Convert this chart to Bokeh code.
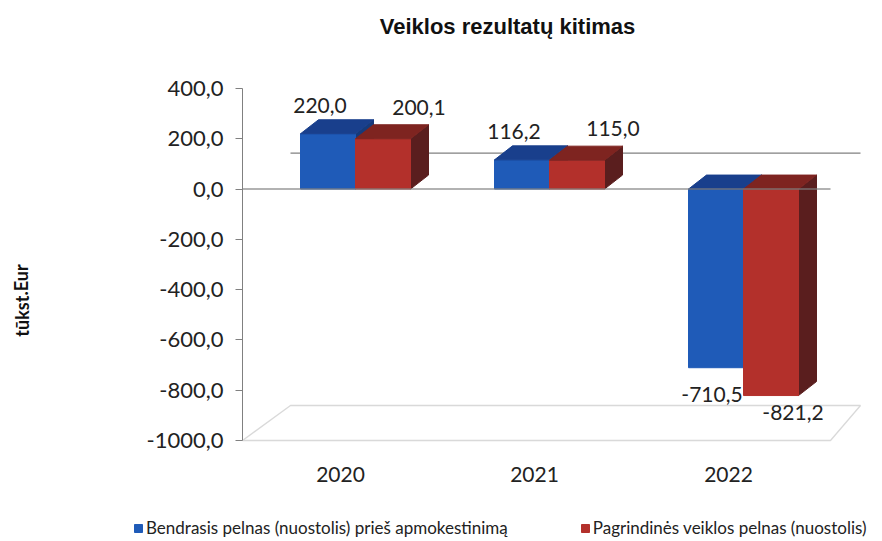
from bokeh.plotting import figure
from bokeh.models import (ColumnDataSource, FixedTicker, Label, Legend,
                          LegendItem, PolyAnnotation, Range1d, LinearAxis)
from bokeh.core.properties import value
from bokeh.embed import file_html
from bokeh.resources import INLINE

# ---------------- data ----------------
chart_title = "Veiklos rezultatų kitimas"
y_axis_title = "tūkst.Eur"
years = ["2020", "2021", "2022"]
series_names = ["Bendrasis pelnas (nuostolis) prieš apmokestinimą",
                "Pagrindinės veiklos pelnas (nuostolis)"]
pretax = [220.0, 116.2, -710.5]
operating = [200.1, 115.0, -821.2]
pretax_labels = ["220,0", "116,2", "-710,5"]
operating_labels = ["200,1", "115,0", "-821,2"]
y_ticks = [400, 200, 0, -200, -400, -600, -800, -1000]
y_tick_labels = ["400,0", "200,0", "0,0", "-200,0", "-400,0", "-600,0", "-800,0", "-1000,0"]

# ---------------- layout / style ----------------
CW, CH = 882, 541                   # canvas
PL, PR, PT, PB = 242, 860, 88, 440  # plotting region (px)
UX = 194.0                          # px per category
X0 = -(340 - PL) / UX               # category coordinate at PL
y_lo, y_hi = y_ticks[-1], y_ticks[0]
UY = (PB - PT) / (y_hi - y_lo)      # px per value unit
X1 = X0 + (PR - PL) / UX

def xd(px):  # canvas px -> x data
    return X0 + (px - PL) / UX

def yd(py):  # canvas px (from top) -> y data
    return y_lo + (PB - py) / UY

FONT = "Lato"
W = 55 / UX               # bar width
SHIFT = 15 / UX           # perspective shift of bar pair
DX = 18 / UX              # 3D depth, x
DY = 14 / UY              # 3D depth, y
blue = dict(front="#1F5BB8", top="#193F8C", side="#163A7A")
red = dict(front="#B3302B", top="#7E2420", side="#5A1E1E")
GRAY = "#808080"
TXT = "#222222"

x_idx = list(range(len(years)))

p = figure(width=CW, height=CH, output_backend="svg", toolbar_location=None,
           x_range=Range1d(xd(0), xd(CW)), y_range=Range1d(yd(CH), yd(0)),
           x_axis_location=None, y_axis_location=None,
           min_border=0)
p.outline_line_color = None
p.xgrid.visible = False
p.ygrid.visible = False

# floor (3D base)
FX_L, FX_R, FY = 48 / UX, 30 / UX, 35 / UY
p.add_layout(PolyAnnotation(
    xs=[X0, X1 - FX_R, X1, X0 + FX_L],
    ys=[y_lo, y_lo, y_lo + FY, y_lo + FY],
    fill_color=None, line_color=GRAY, line_width=1.3))

# back-wall zero line
p.segment(x0=[X0 + FX_L], y0=[36 / UY], x1=[X1], y1=[36 / UY], line_color=GRAY, line_width=1.3)


def draw_series(vals, offset, col):
    left = [i + SHIFT + offset for i in x_idx]
    right = [l + W for l in left]
    top = [max(v, 0) for v in vals]
    bottom = [min(v, 0) for v in vals]
    side_xs = [[r, r + DX, r + DX, r] for r in right]
    side_ys = [[t, t + DY, b + DY, b] for t, b in zip(top, bottom)]
    top_xs = [[l, r, r + DX, l + DX] for l, r in zip(left, right)]
    top_ys = [[t, t, t + DY, t + DY] for t in top]
    p.patches(side_xs, side_ys, fill_color=col["side"], line_color=col["side"])
    front = p.quad(left=left, right=right, top=top, bottom=bottom,
                   fill_color=col["front"], line_color=col["front"])
    p.patches(top_xs, top_ys, fill_color=col["top"], line_color=col["top"])
    return front, left


b_r, b_left = draw_series(pretax, -W, blue)
r_r, r_left = draw_series(operating, 0.0, red)

# front zero line (drawn over the bars, as in the original)
p.segment(x0=[X0], y0=[0], x1=[X1 - FX_R], y1=[0], line_color=GRAY, line_width=1.5,
          line_alpha=0.8)

# value labels (offsets in px per series / sign)
offs = {("b", True): (-8, -7), ("b", False): (-4, 19),
        ("r", True): (36, -10), ("r", False): (22, 9)}
lx, ly, lt, lb, xo, yo = [], [], [], [], [], []
for key, vals, labs, left in (("b", pretax, pretax_labels, b_left),
                              ("r", operating, operating_labels, r_left)):
    for v, s, l in zip(vals, labs, left):
        pos = v >= 0
        lx.append(l + W / 2)
        ly.append(v + DY if pos else v)
        lb.append("bottom" if pos else "top")
        ox, oy = offs[(key, pos)]
        xo.append(ox)
        yo.append(oy)
        lt.append(s)
src = ColumnDataSource(dict(x=lx, y=ly, text=lt, bl=lb, xo=xo, yo=yo))
p.text(x="x", y="y", text="text", source=src, text_align="center",
       text_baseline="bl", x_offset="xo", y_offset="yo",
       text_font=value(FONT), text_font_size="21px", text_color=TXT)

# axes (fixed inside the canvas-sized frame)
yaxis = LinearAxis(fixed_location=X0, bounds=(y_lo, y_hi))
yaxis.ticker = FixedTicker(ticks=y_ticks)
yaxis.major_label_overrides = dict(zip(y_ticks, y_tick_labels))
yaxis.major_label_text_font = FONT
yaxis.major_label_text_font_size = "22px"
yaxis.major_label_text_color = TXT
yaxis.axis_line_color = GRAY
yaxis.major_tick_line_color = GRAY
yaxis.major_tick_in = 0
yaxis.major_tick_out = 7
yaxis.minor_tick_line_color = None
yaxis.major_label_standoff = 12
p.add_layout(yaxis, "left")

xaxis = LinearAxis(fixed_location=y_lo)
xaxis.ticker = FixedTicker(ticks=x_idx)
xaxis.major_label_overrides = dict(zip(x_idx, years))
xaxis.major_label_text_font = FONT
xaxis.major_label_text_font_size = "21px"
xaxis.major_label_text_color = TXT
xaxis.axis_line_color = None
xaxis.major_tick_line_color = None
xaxis.minor_tick_line_color = None
xaxis.major_label_standoff = 20
p.add_layout(xaxis, "below")

# title and y-axis title
p.add_layout(Label(x=xd(507), y=yd(26), text=chart_title,
                   text_font="Liberation Sans", text_font_style="bold",
                   text_font_size="22px", text_align="center", text_baseline="middle",
                   text_color="#111111"))
p.add_layout(Label(x=xd(21), y=yd(300), text=y_axis_title,
                   angle=1.5708, text_font=FONT, text_font_style="bold",
                   text_font_size="18px", text_align="center", text_baseline="middle",
                   text_color="#111111"))

legend = Legend(items=[LegendItem(label=series_names[0], renderers=[b_r]),
                       LegendItem(label=series_names[1], renderers=[r_r])],
                location=(133, 3), orientation="horizontal",
                label_text_font=FONT, label_text_font_size="17px",
                label_text_color=TXT, glyph_width=10, glyph_height=10,
                label_standoff=3, spacing=72, padding=0, margin=0,
                border_line_color=None, background_fill_alpha=0)
p.add_layout(legend)

open("out.html", "w").write(file_html(p, INLINE))
